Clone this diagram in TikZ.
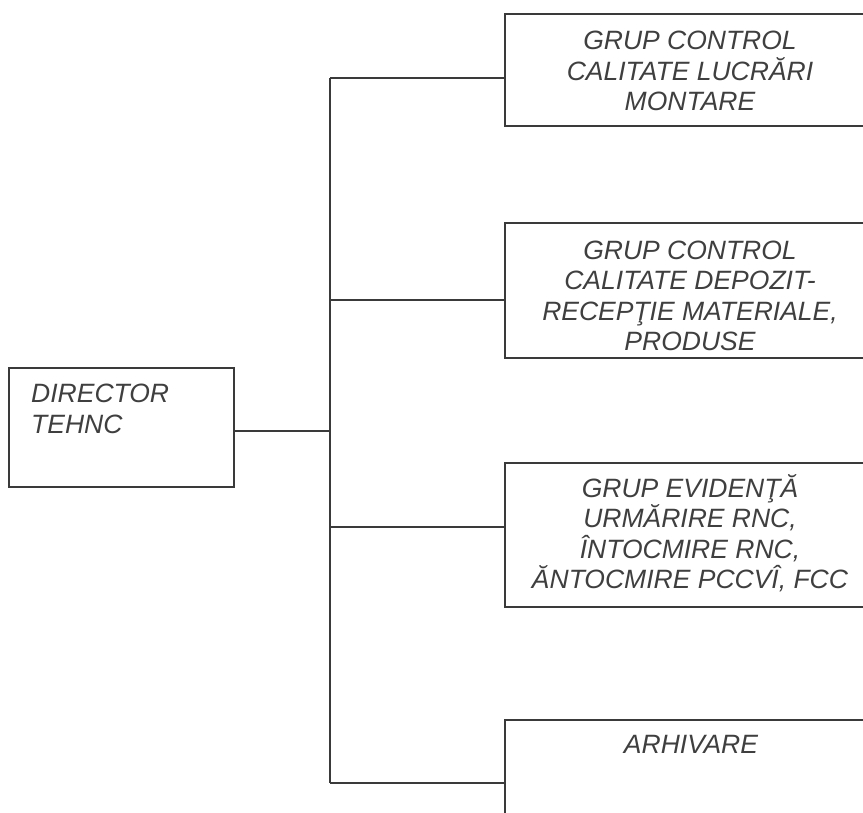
\documentclass[tikz,border=0pt]{standalone}
\usepackage{fontspec}
\setmainfont{Liberation Sans}
\definecolor{linecol}{HTML}{3A3A3A}
\definecolor{txtcol}{HTML}{3F3F3F}
\begin{document}
\begin{tikzpicture}[x=1pt,y=-1pt,
  box/.style={draw=linecol, line width=1.7pt, rectangle, inner sep=0pt},
  lbl/.style={font=\fontsize{26.5}{30.5}\selectfont\itshape, text=txtcol, inner sep=0pt},
  conn/.style={draw=linecol, line width=1.7pt}]
\useasboundingbox (0,0) rectangle (863,813);
\clip (0,0) rectangle (863,813);
% director
\node[box, minimum width=225pt, minimum height=119pt] (dir) at (121.5,427.5) {};
\node[lbl, anchor=north west, align=left] (tdir) at (31,384) {DIRECTOR\\TEHNC};
% right boxes
\node[box, minimum width=370pt, minimum height=112pt] (b1) at (690,70) {};
\node[lbl, align=center] (t1) at (690,71) {GRUP CONTROL\\CALITATE LUCRĂRI\\MONTARE};
\node[box, minimum width=370pt, minimum height=135pt] (b2) at (690,290.5) {};
\node[lbl, align=center] (t2) at (690,296) {GRUP CONTROL\\CALITATE DEPOZIT-\\RECEPŢIE MATERIALE,\\PRODUSE};
\node[box, minimum width=370pt, minimum height=144pt] (b3) at (690,535) {};
\node[lbl, align=center] (t3) at (690,533) {GRUP EVIDENŢĂ\\URMĂRIRE RNC,\\ÎNTOCMIRE RNC,\\ĂNTOCMIRE PCCVÎ, FCC};
\node[box, minimum width=370pt, minimum height=130pt] (b4) at (690,785) {};
\node[lbl, anchor=base] (t4) at (691,753) {ARHIVARE};
% connectors
\coordinate (j1) at (330,78);
\coordinate (j2) at (330,300);
\coordinate (jd) at (330,431);
\coordinate (j3) at (330,527);
\coordinate (j4) at (330,783);
\draw[conn] (j1) -- (j4);
\draw[conn] (dir.east |- jd) -- (jd);
\draw[conn] (j1) -- (j1 -| b1.west);
\draw[conn] (j2) -- (j2 -| b2.west);
\draw[conn] (j3) -- (j3 -| b3.west);
\draw[conn] (j4) -- (j4 -| b4.west);
\end{tikzpicture}
\end{document}
